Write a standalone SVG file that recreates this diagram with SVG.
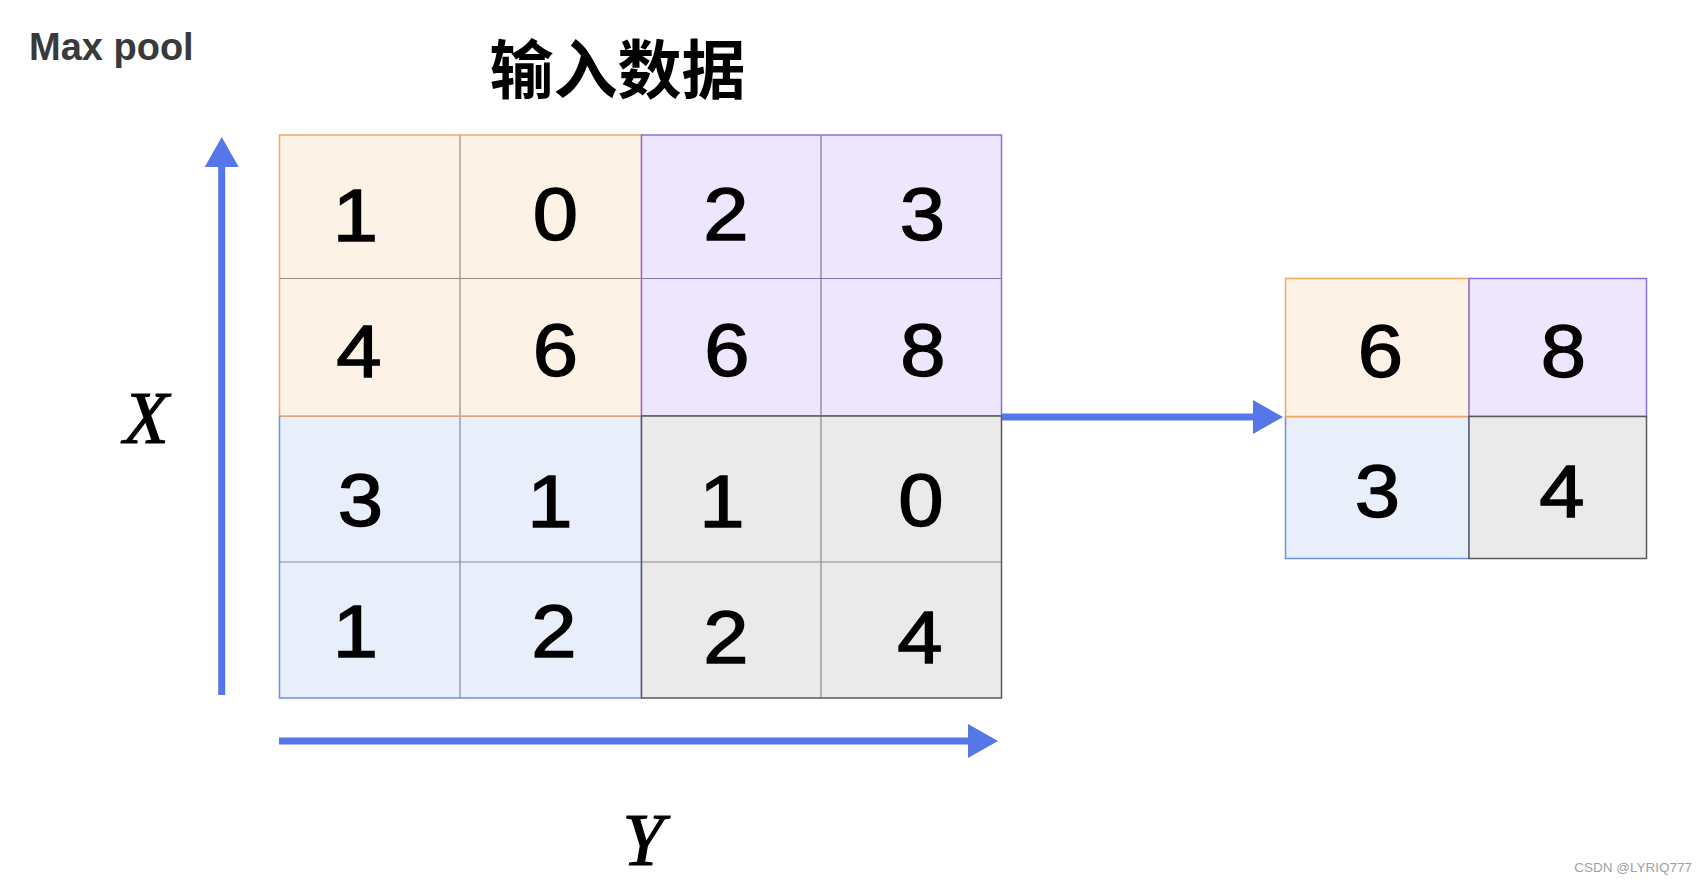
<svg xmlns="http://www.w3.org/2000/svg" width="1707" height="884" viewBox="0 0 1707 884">
<style>
.d{font-family:"Liberation Sans",Arial,sans-serif;font-size:74px;fill:#000;stroke:#000;stroke-width:1.4px;text-anchor:middle}
.ax{font-family:"Liberation Serif","Times New Roman",serif;font-style:italic;font-size:74px;fill:#000;stroke:#000;stroke-width:1.2px;text-anchor:middle}
.arr{stroke:#5677e8;stroke-width:7;fill:none}
.in{stroke-width:1.2;fill:none}
.bd{stroke-width:1.5;fill:none}
</style>
<defs>
<marker id="ah" viewBox="0 0 30 34" refX="1" refY="17" markerWidth="30" markerHeight="34" markerUnits="userSpaceOnUse" orient="auto">
<path d="M0,0 L30,17 L0,34 z" fill="#5677e8"/>
</marker>
</defs>
<rect width="1707" height="884" fill="#fff"/>
<text x="29" y="59.5" font-family="Liberation Sans,Arial,sans-serif" font-size="38" font-weight="bold" fill="#3a3a3a">Max pool</text>
<text x="617.5" y="93" font-family="Noto Sans CJK SC,sans-serif" font-size="64" font-weight="bold" fill="#000" text-anchor="middle">输入数据</text>

<g id="connectors">
<line class="arr" x1="221.7" y1="695" x2="221.7" y2="166" marker-end="url(#ah)"/>
<line class="arr" x1="279" y1="741" x2="969" y2="741" marker-end="url(#ah)"/>
<line class="arr" x1="1002" y1="417" x2="1254" y2="417" marker-end="url(#ah)"/>
</g>

<g id="input-grid">
<g id="blk-blue">
<rect x="279.5" y="416" width="362" height="282" fill="#e9eefb"/>
<line class="in" stroke="#7f8aa8" x1="460" y1="416" x2="460" y2="698"/>
<line class="in" stroke="#7f8aa8" x1="279.5" y1="562" x2="641.5" y2="562"/>
<rect class="bd" stroke="#6f8ee6" x="279.5" y="416" width="362" height="282"/>
</g>
<g id="blk-orange">
<rect x="279.5" y="135" width="362" height="281" fill="#fdf2e6"/>
<line class="in" stroke="#9a8a78" x1="460" y1="135" x2="460" y2="416"/>
<line class="in" stroke="#9a8a78" x1="279.5" y1="278.5" x2="641.5" y2="278.5"/>
<rect class="bd" stroke="#f0a860" x="279.5" y="135" width="362" height="281"/>
</g>
<g id="blk-purple">
<rect x="641.5" y="135" width="360" height="281" fill="#ede6fc"/>
<line class="in" stroke="#7e76a0" x1="821" y1="135" x2="821" y2="416"/>
<line class="in" stroke="#7e76a0" x1="641.5" y1="278.5" x2="1001.5" y2="278.5"/>
<rect class="bd" stroke="#8a6fdc" x="641.5" y="135" width="360" height="281"/>
</g>
<g id="blk-gray">
<rect x="641.5" y="416" width="360" height="282" fill="#eaeaea"/>
<line class="in" stroke="#8a8a8a" x1="821" y1="416" x2="821" y2="698"/>
<line class="in" stroke="#8a8a8a" x1="641.5" y1="562" x2="1001.5" y2="562"/>
<rect class="bd" stroke="#5a5a5a" x="641.5" y="416" width="360" height="282"/>
</g>
<g id="vals">
<text class="d" transform="translate(355.5 240.5) scale(1.1 1)">1</text>
<text class="d" transform="translate(555.5 239.5) scale(1.1 1)">0</text>
<text class="d" transform="translate(726 240) scale(1.1 1)">2</text>
<text class="d" transform="translate(922.5 239.5) scale(1.1 1)">3</text>
<text class="d" transform="translate(359 376.5) scale(1.1 1)">4</text>
<text class="d" transform="translate(555.5 375.5) scale(1.1 1)">6</text>
<text class="d" transform="translate(727 375.5) scale(1.1 1)">6</text>
<text class="d" transform="translate(923 375.5) scale(1.1 1)">8</text>
<text class="d" transform="translate(360.5 525.5) scale(1.1 1)">3</text>
<text class="d" transform="translate(550 526.5) scale(1.1 1)">1</text>
<text class="d" transform="translate(722 526.5) scale(1.1 1)">1</text>
<text class="d" transform="translate(921 525.5) scale(1.1 1)">0</text>
<text class="d" transform="translate(355.5 656.5) scale(1.1 1)">1</text>
<text class="d" transform="translate(554 656.5) scale(1.1 1)">2</text>
<text class="d" transform="translate(726 663) scale(1.1 1)">2</text>
<text class="d" transform="translate(920 663) scale(1.1 1)">4</text>
</g>
</g>

<g id="output-grid">
<rect x="1285.5" y="416.5" width="183.5" height="142" fill="#e9eefb" stroke="#6f8ee6" stroke-width="1.5"/>
<rect x="1285.5" y="278.5" width="183.5" height="138" fill="#fdf2e6" stroke="#f0a860" stroke-width="1.5"/>
<rect x="1469" y="278.5" width="177.5" height="138" fill="#ede6fc" stroke="#8a6fdc" stroke-width="1.5"/>
<rect x="1469" y="416.5" width="177.5" height="142" fill="#eaeaea" stroke="#5a5a5a" stroke-width="1.5"/>
<text class="d" transform="translate(1380.5 376.5) scale(1.1 1)">6</text>
<text class="d" transform="translate(1563.5 376.5) scale(1.1 1)">8</text>
<text class="d" transform="translate(1377.5 516.5) scale(1.1 1)">3</text>
<text class="d" transform="translate(1562 517) scale(1.1 1)">4</text>
</g>

<text id="label-x" class="ax" x="146" y="443">X</text>
<text id="label-y" class="ax" x="643" y="865">Y</text>
<text x="1692" y="872" font-family="Liberation Sans,Arial,sans-serif" font-size="13.5" fill="#a0a0a0" text-anchor="end">CSDN @LYRIQ777</text>
</svg>
